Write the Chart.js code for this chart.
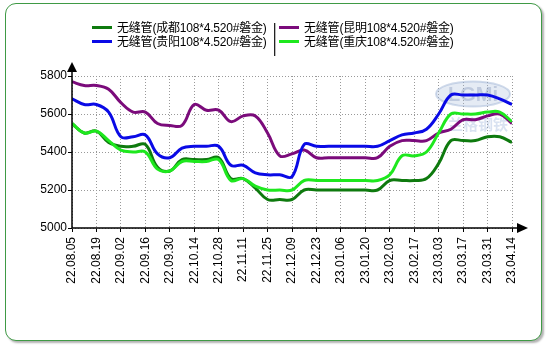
<!DOCTYPE html>
<html>
<head>
<meta charset="utf-8">
<script src="https://cdn.jsdelivr.net/npm/chart.js@4"></script>
<style>
  body { margin: 0; background: #fff; }
  #wrap { position: relative; width: 550px; height: 345px; }
  #frame {
    position: absolute; left: 5px; top: 3px; width: 537px; height: 338px;
    box-sizing: border-box; border: 1.5px solid #3f9a45; border-radius: 11px;
    box-shadow: 2px 2px 2px rgba(0, 0, 0, 0.3); background: #fff;
  }
  canvas { position: absolute; left: 0; top: 0; }
  #legend { position: absolute; left: 0; top: 0; font: 12px "Liberation Sans", "Noto Sans CJK SC", sans-serif; color: #000; letter-spacing: -0.2px; }
  .item { position: absolute; white-space: nowrap; line-height: 14px; }
  .item i { display: inline-block; width: 20px; height: 3px; vertical-align: middle; margin-right: 5px; position: relative; top: -1px; }
  #sep { position: absolute; left: 274px; top: 23px; width: 1px; height: 33px; background: #222; box-shadow: 1px 0 0 #bbb; }
</style>
</head>
<body>
<div id="wrap">
  <div id="frame"></div>
  <canvas id="priceChart" width="550" height="345"></canvas>
  <div id="legend"><div id="sep"></div></div>
</div>
<script>
// 周度日期（每两周显示一个标签）
const dates = [
  '22.08.05', '22.08.12', '22.08.19', '22.08.26', '22.09.02', '22.09.09', '22.09.16', '22.09.23',
  '22.09.30', '22.10.07', '22.10.14', '22.10.21', '22.10.28', '22.11.04', '22.11.11', '22.11.18',
  '22.11.25', '22.12.02', '22.12.09', '22.12.16', '22.12.23', '22.12.30', '23.01.06', '23.01.13',
  '23.01.20', '23.01.27', '23.02.03', '23.02.10', '23.02.17', '23.02.24', '23.03.03', '23.03.10',
  '23.03.17', '23.03.24', '23.03.31', '23.04.07', '23.04.14'
];

const seriesNames = [
  '无缝管(成都108*4.520#磐金)',
  '无缝管(昆明108*4.520#磐金)',
  '无缝管(贵阳108*4.520#磐金)',
  '无缝管(重庆108*4.520#磐金)'
];

const chengdu = [
  5550, 5500, 5510, 5450, 5430, 5430, 5440, 5320, 5300, 5360, 5360, 5360, 5370, 5260, 5260, 5210,
  5150, 5150, 5150, 5200, 5200, 5200, 5200, 5200, 5200, 5200, 5250, 5250, 5250, 5260, 5340, 5460,
  5460, 5460, 5480, 5480, 5450
];
const kunming = [
  5770, 5750, 5750, 5730, 5660, 5610, 5610, 5550, 5540, 5540, 5650, 5620, 5620, 5560, 5590, 5590,
  5500, 5380, 5390, 5410, 5370, 5370, 5370, 5370, 5370, 5370, 5430, 5460, 5460, 5460, 5500, 5520,
  5570, 5570, 5590, 5600, 5550
];
const guiyang = [
  5680, 5650, 5650, 5610, 5480, 5480, 5490, 5390, 5370, 5420, 5430, 5430, 5430, 5330, 5330, 5290,
  5280, 5280, 5270, 5440, 5430, 5430, 5430, 5430, 5430, 5430, 5460, 5490, 5500, 5520, 5600, 5700,
  5700, 5700, 5700, 5680, 5650
];
const chongqing = [
  5550, 5500, 5510, 5460, 5410, 5400, 5400, 5310, 5300, 5350, 5350, 5350, 5360, 5250, 5260, 5220,
  5200, 5200, 5200, 5250, 5250, 5250, 5250, 5250, 5250, 5250, 5280, 5380, 5380, 5400, 5500, 5600,
  5600, 5600, 5610, 5610, 5560
];

const colors = ['#0e7a0e', '#7b0b7b', '#0a0ae6', '#1ee81e'];
const seriesValues = [chengdu, kunming, guiyang, chongqing];
const drawOrder = [1, 3, 2, 0];   // 亮绿在最上层

// 图例：两列两行，中间一条竖线
const legendEl = document.getElementById('legend');
seriesNames.forEach((name, i) => {
  const item = document.createElement('div');
  item.className = 'item';
  item.style.left = (i % 2 === 0 ? 92 : 279) + 'px';
  item.style.top = (i < 2 ? 21 : 35) + 'px';
  item.innerHTML = '<i style="background:' + colors[i] + '"></i>' + name;
  legendEl.appendChild(item);
});

// 坐标轴实线和箭头
const axisArrows = {
  id: 'axisArrows',
  afterDatasetsDraw(chart) {
    const { ctx, chartArea: { left, right, top, bottom } } = chart;
    ctx.save();
    ctx.strokeStyle = '#000';
    ctx.fillStyle = '#000';
    ctx.lineWidth = 1.5;
    ctx.beginPath();
    ctx.moveTo(left, top - 4);
    ctx.lineTo(left, bottom);
    ctx.lineTo(right + 5, bottom);
    ctx.stroke();
    ctx.beginPath();
    ctx.moveTo(left - 5, top - 4);
    ctx.lineTo(left + 5, top - 4);
    ctx.lineTo(left, top - 14);
    ctx.closePath();
    ctx.fill();
    ctx.beginPath();
    ctx.moveTo(right + 5, bottom - 5);
    ctx.lineTo(right + 5, bottom + 5);
    ctx.lineTo(right + 16, bottom);
    ctx.closePath();
    ctx.fill();
    ctx.restore();
  }
};

// 淡色水印
const watermark = {
  id: 'watermark',
  beforeDatasetsDraw(chart) {
    const { ctx } = chart;
    ctx.save();
    ctx.fillStyle = 'rgba(170, 190, 220, 0.3)';
    ctx.strokeStyle = 'rgba(140, 165, 205, 0.4)';
    ctx.lineWidth = 2;
    ctx.beginPath();
    ctx.ellipse(473, 94, 37, 12.5, 0, 0, Math.PI * 2);
    ctx.fill();
    ctx.stroke();
    ctx.font = 'bold 20px "Liberation Sans", sans-serif';
    ctx.textAlign = 'center';
    ctx.textBaseline = 'middle';
    ctx.fillStyle = 'rgba(120, 140, 180, 0.35)';
    ctx.fillText('LGMi', 473, 95);
    ctx.font = 'bold 15px "Noto Sans CJK SC", sans-serif';
    ctx.fillStyle = 'rgba(130, 160, 210, 0.3)';
    ctx.fillText('兰格钢铁', 478, 124);
    ctx.restore();
  }
};

const ctx = document.getElementById('priceChart').getContext('2d');
new Chart(ctx, {
  type: 'line',
  data: {
    datasets: seriesValues.map((vals, i) => ({
      label: seriesNames[i],
      data: vals.map((v, j) => ({ x: j, y: v })),
      borderColor: colors[i],
      borderWidth: 3,
      pointRadius: 0,
      fill: false,
      tension: 0.4,
      order: drawOrder[i]
    }))
  },
  options: {
    responsive: false,
    animation: false,
    events: [],
    layout: { padding: { left: 32, right: 38, top: 76, bottom: 47 } },
    plugins: { legend: { display: false }, tooltip: { enabled: false } },
    scales: {
      x: {
        type: 'linear',
        min: 0,
        max: 36,
        afterFit: (scale) => { scale.height = 70; },
        border: { display: false, dash: [1, 2] },
        grid: { color: '#999', lineWidth: 1, tickColor: '#000', tickLength: 4 },
        ticks: {
          stepSize: 2,
          includeBounds: false,
          autoSkip: false,
          maxRotation: 90,
          minRotation: 90,
          padding: 5,
          color: '#000',
          font: { family: '"Liberation Sans", Arial, sans-serif', size: 12 },
          callback: (v) => dates[v] ?? ''
        }
      },
      y: {
        min: 5000,
        max: 5800,
        afterFit: (scale) => { scale.width = 40; },
        border: { display: false, dash: [1, 2] },
        grid: { color: '#999', lineWidth: 1, tickColor: '#000', tickLength: 4 },
        ticks: {
          stepSize: 200,
          padding: 1,
          color: '#000',
          font: { family: '"Liberation Sans", Arial, sans-serif', size: 12 },
          callback: (v) => String(v)
        }
      }
    }
  },
  plugins: [watermark, axisArrows]
});
</script>
</body>
</html>
